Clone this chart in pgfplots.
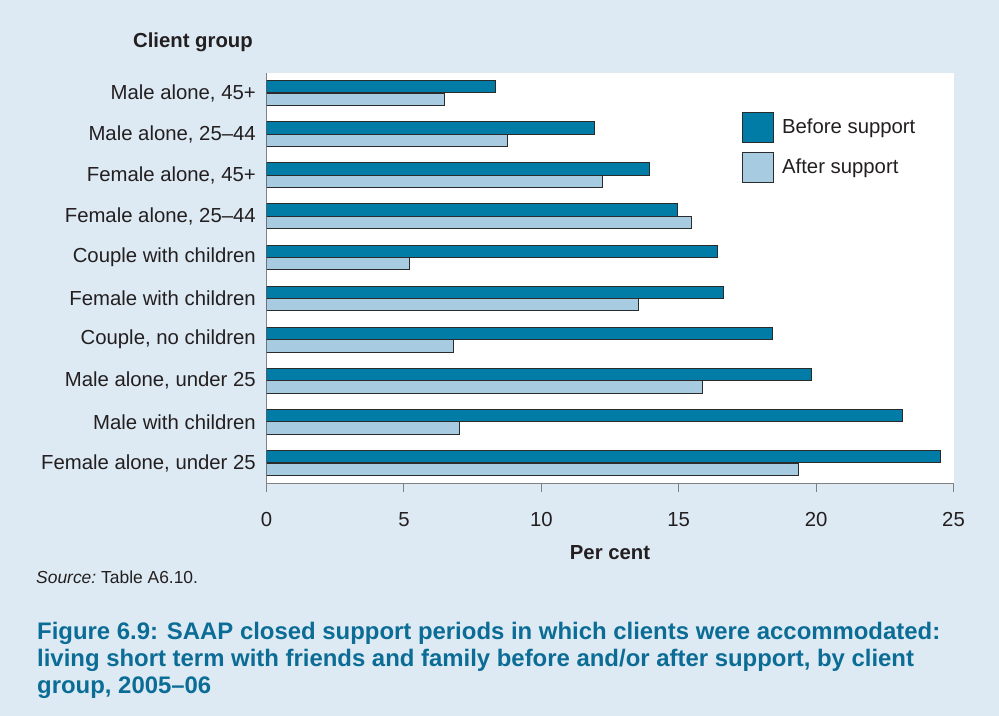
\documentclass[border=0pt]{standalone}
\usepackage{fontspec}
\setmainfont{Liberation Sans}
\usepackage{pgfplots}
\pgfplotsset{compat=1.18}
\definecolor{bg}{HTML}{DDEAF3}
\definecolor{before}{HTML}{007CA6}
\definecolor{after}{HTML}{A7CBE1}
\definecolor{cap}{HTML}{0B6C96}
\definecolor{txt}{HTML}{231F20}
\definecolor{axgray}{HTML}{808285}
\definecolor{edge}{HTML}{2B2B2B}
\begin{document}
\begin{tikzpicture}
\fill[bg] (0,0) rectangle (999bp,-716bp);
\begin{axis}[
  at={(266.5bp,-483.5bp)}, anchor=south west,
  scale only axis, width=687bp, height=411bp,
  xmin=0, xmax=25, ymin=-0.5, ymax=9.5,
  xbar, bar width=0.3,
  axis background/.style={fill=white},
  axis x line*=bottom, axis y line*=left,
  axis line style={axgray, line width=1.3bp, -},
  xtick={0,5,10,15,20,25},
  tick align=outside, major tick length=8.5bp,
  xtick style={axgray, line width=1bp},
  ytick={0,...,9}, ytick style={draw=none},
  yticklabels={Female alone{,} under 25, Male with children, Male alone{,} under 25, Couple{,} no children, Female with children, Couple with children, Female alone{,} 25--44, Female alone{,} 45+, Male alone{,} 25--44, Male alone{,} 45+},
  ticklabel style={font=\fontsize{20.4}{24}\selectfont, text=txt},
  yticklabel style={inner sep=0pt, xshift=-2bp},
  xticklabel style={yshift=-17bp},
  /pgf/number format/assume math mode=true,
  xlabel={\bfseries Per cent},
  xlabel style={font=\fontsize{20.4}{24}\selectfont, text=txt, at={(rel axis cs:0.5,0)}, anchor=center, yshift=-69bp},
  legend style={at={(0.692,0.905)}, anchor=north west, draw=none, fill=none, font=\fontsize{20.4}{24}\selectfont, text=txt, row sep=9bp, column sep=6bp, inner sep=0pt},
  legend cell align=left,
  legend image code/.code={\draw[#1, line width=1bp] (0bp,-15bp) rectangle (31bp,15bp);},
]
\addplot[fill=before, draw=edge, line width=1bp, bar shift=0.152] coordinates {
 (24.53,0) (23.13,1) (19.83,2) (18.42,3) (16.63,4) (16.40,5) (14.97,6) (13.93,7) (11.93,8) (8.33,9)};
\addplot[fill=after, draw=edge, line width=1bp, bar shift=-0.152] coordinates {
 (19.35,0) (7.01,1) (15.86,2) (6.81,3) (13.55,4) (5.21,5) (15.47,6) (12.24,7) (8.78,8) (6.48,9)};
\legend{Before support, After support}
\end{axis}
\node[anchor=east, inner sep=0pt, text=txt, font=\fontsize{20.4}{24}\selectfont\bfseries] at (253bp,-42bp) {Client group};
\node[anchor=base west, inner sep=0pt, text=txt, font=\fontsize{17.5}{20}\selectfont] at (36bp,-583bp) {{\itshape Source:}\ Table A6.10.};
\begin{scope}[every node/.style={anchor=base west, inner sep=0pt, text=cap, font=\fontsize{24}{28}\selectfont\bfseries}]
\node at (37bp,-639bp) {Figure 6.9: SAAP closed support periods in which clients were accommodated:};
\node at (37bp,-666.3bp) {living short term with friends and family before and/or after support, by client};
\node at (37bp,-693.7bp) {group, 2005--06};
\end{scope}
\end{tikzpicture}
\end{document}
